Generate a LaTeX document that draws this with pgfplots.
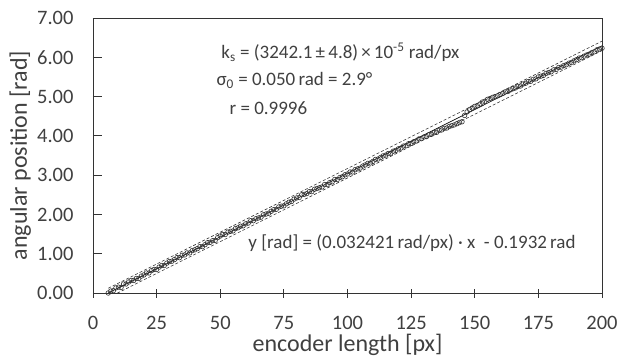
\documentclass[border=0pt]{standalone}
\usepackage{pgfplots}
\pgfplotsset{compat=1.18}
\usepackage{fontspec}
\setmainfont{Carlito}
\pgfplotstableread{
x y
6 0.00
7 0.05
8 0.06
9 0.13
10 0.15
11 0.14
12 0.23
13 0.23
14 0.28
15 0.32
16 0.32
17 0.37
18 0.37
19 0.43
20 0.46
21 0.51
22 0.51
23 0.57
24 0.60
25 0.60
26 0.66
27 0.70
28 0.70
29 0.76
30 0.80
31 0.81
32 0.85
33 0.90
34 0.90
35 0.96
36 0.97
37 1.02
38 1.02
39 1.08
40 1.10
41 1.13
42 1.18
43 1.18
44 1.23
45 1.28
46 1.29
47 1.33
48 1.34
49 1.41
50 1.45
51 1.49
52 1.49
53 1.55
54 1.57
55 1.58
56 1.64
57 1.66
58 1.70
59 1.71
60 1.76
61 1.78
62 1.84
63 1.84
64 1.89
65 1.91
66 1.93
67 1.99
68 2.01
69 2.03
70 2.08
71 2.12
72 2.13
73 2.19
74 2.21
75 2.22
76 2.27
77 2.31
78 2.33
79 2.39
80 2.42
81 2.43
82 2.50
83 2.51
84 2.53
85 2.58
86 2.58
87 2.64
88 2.66
89 2.68
90 2.70
91 2.76
92 2.76
93 2.81
94 2.83
95 2.89
96 2.89
97 2.94
98 2.96
99 3.01
100 3.03
101 3.08
102 3.08
103 3.14
104 3.16
105 3.18
106 3.23
107 3.26
108 3.30
109 3.31
110 3.35
111 3.40
112 3.41
113 3.45
114 3.49
115 3.51
116 3.55
117 3.56
118 3.61
119 3.63
120 3.67
121 3.69
122 3.74
123 3.75
124 3.80
125 3.81
126 3.85
127 3.87
128 3.92
129 3.93
130 3.97
131 3.98
132 4.03
133 4.04
134 4.08
135 4.09
136 4.14
137 4.15
138 4.19
139 4.20
140 4.24
141 4.26
142 4.28
143 4.31
144 4.34
145 4.36
146 4.52
147 4.61
148 4.67
149 4.71
150 4.75
151 4.77
152 4.81
153 4.86
154 4.88
155 4.93
156 4.95
157 4.98
158 5.00
159 5.02
160 5.05
161 5.08
162 5.12
163 5.13
164 5.17
165 5.20
166 5.22
167 5.26
168 5.27
169 5.32
170 5.34
171 5.38
172 5.39
173 5.44
174 5.45
175 5.50
176 5.52
177 5.54
178 5.59
179 5.61
180 5.63
181 5.68
182 5.69
183 5.74
184 5.75
185 5.79
186 5.81
187 5.85
188 5.87
189 5.91
190 5.94
191 5.98
192 5.99
193 6.03
194 6.06
195 6.08
196 6.12
197 6.14
198 6.19
199 6.21
200 6.23
}\meas
\definecolor{txt}{HTML}{404040}
\begin{document}
\begin{tikzpicture}
\useasboundingbox (-93bp,-65bp) rectangle (524bp,293bp);
\begin{axis}[
  scale only axis, width=509bp, height=275bp,
  at={(0,0)}, anchor=south west,
  xmin=0, xmax=200, ymin=0, ymax=7,
  xtick={0,25,...,200}, ytick={0,1,...,7},
  tick pos=left, xtick align=center, ytick align=inside,
  major tick length=9bp,
  axis line style={black!80, line width=0.8bp},
  tick style={black!80, line width=0.8bp},
  /pgf/number format/assume math mode=true,
  ticklabel style={font=\fontsize{20.5bp}{24bp}\selectfont, text=txt},
  yticklabel style={/pgf/number format/.cd, fixed, fixed zerofill, precision=2, /tikz/.cd, anchor=east, xshift=-16bp},
  xticklabel style={/pgf/number format/.cd, fixed, precision=0, /tikz/.cd, anchor=base, yshift=-32bp},
  xlabel={encoder length [px]}, ylabel={angular position [rad]},
  label style={font=\fontsize{24bp}{28bp}\selectfont, text=txt},
  xlabel style={at={(axis description cs:0.5,0)}, anchor=base, yshift=-58bp},
  ylabel style={at={(axis description cs:0,0.5)}, anchor=base, yshift=66bp},
  clip=true,
]
\addplot[only marks, mark=o, mark size=2.3bp, black!80, mark options={line width=0.6bp}] table[x=x,y=y] {\meas};
\addplot[black, line width=0.6bp] coordinates {(6,0.0013) (200,6.291)};
\addplot[black!80, line width=0.6bp, dash pattern=on 3bp off 2bp] coordinates {(6,0.1213) (200,6.411)};
\addplot[black!80, line width=0.6bp, dash pattern=on 3bp off 2bp] coordinates {(6,-0.1187) (200,6.171)};
\node[anchor=west, text=txt, font=\fontsize{19bp}{23bp}\selectfont] at (axis cs:49.1,6.13) {k\textsubscript{s} = (3242.1\,±\,4.8)\,×\,10\textsuperscript{-5} rad/px};
\node[anchor=west, text=txt, font=\fontsize{19bp}{23bp}\selectfont] at (axis cs:47.2,5.42) {σ\textsubscript{0} = 0.050\,rad = 2.9°};
\node[anchor=west, text=txt, font=\fontsize{19bp}{23bp}\selectfont] at (axis cs:52.3,4.71) {r = 0.9996};
\node[anchor=west, text=txt, font=\fontsize{19bp}{23bp}\selectfont] at (axis cs:59.7,1.27) {y [rad] = (0.032421\,rad/px) · x~~- 0.1932\,rad};
\end{axis}
\end{tikzpicture}
\end{document}
